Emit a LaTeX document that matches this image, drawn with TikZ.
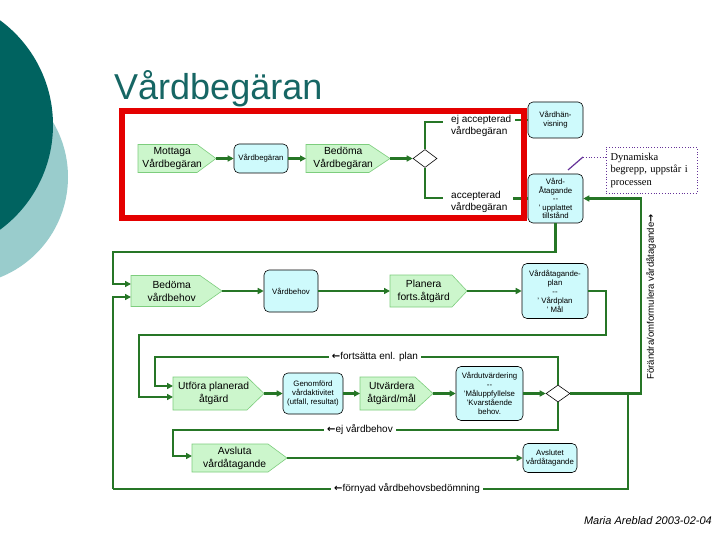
\documentclass[tikz,border=0pt]{standalone}
\usepackage{fontspec}
\setmainfont{Liberation Sans}
\newfontfamily\seriff{Liberation Serif}
\newfontfamily\symf{DejaVu Sans}
\usetikzlibrary{shapes.geometric,arrows.meta,backgrounds}

\definecolor{tealA}{RGB}{0,99,96}
\definecolor{tealB}{RGB}{153,204,204}
\definecolor{titlec}{RGB}{22,102,100}
\definecolor{redb}{RGB}{228,0,0}
\definecolor{flowg}{RGB}{38,118,38}
\definecolor{pentf}{RGB}{204,246,204}
\definecolor{pentd}{RGB}{125,205,125}
\definecolor{boxf}{RGB}{206,250,252}
\definecolor{purp}{RGB}{102,51,153}

\newcommand{\arr}[1]{{\symf\bfseries #1}}

\tikzset{
 penttext/.style={rectangle, font=\fontsize{10.3}{13}\selectfont, align=center, inner sep=0pt, anchor=west},
 pentsh/.style={fill=pentf, draw=pentd, line width=0.6pt, line join=miter},
 sbox/.style={rectangle, rounded corners=5pt, fill=boxf, draw=black, line width=0.6pt,
   font=\fontsize{7.8}{9}\selectfont, align=center, inner sep=1pt},
 dia/.style={diamond, draw=black, fill=white, line width=0.6pt, minimum width=24pt,
   minimum height=18pt, inner sep=0pt},
 flow/.style={draw=flowg, line width=2.2pt},
 flowa/.style={flow, -{Triangle[length=6pt,width=6pt]}},
 lbl/.style={fill=white, inner sep=3pt, font=\fontsize{10}{12}\selectfont},
 txt/.style={font=\fontsize{10}{12.5}\selectfont, align=left, inner sep=0pt, anchor=west},
}

% #1 name, #2 left x, #3 centre y, #4 body width, #5 total width, #6 height, #7 text
\newcommand{\mkpent}[7]{%
 \node[penttext, minimum width={#5-10}, minimum height=#6] (#1) at (#2,#3) {#7};
 \coordinate (#1-tip) at (#2+#5,#3);
 \begin{scope}[on background layer]
 \filldraw[pentsh] (#2,#3-#6/2) -- (#2+#4,#3-#6/2) -- (#1-tip) -- (#2+#4,#3+#6/2) -- (#2,#3+#6/2) -- cycle;
 \end{scope}}

\begin{document}
\begin{tikzpicture}[x=1pt,y=-1pt]
\begin{scope}[on background layer]
\fill[white] (0,0) rectangle (720,540);
\clip (0,0) rectangle (720,540);
\fill[tealB] (-40,177) circle (108pt);
\fill[tealA] (-77,125) circle (130pt);
\end{scope}
\useasboundingbox (0,0) rectangle (720,540);

\node[font=\fontsize{36}{40}\selectfont, text=titlec, anchor=base west, inner sep=0pt] (title) at (114,100) {Vårdbegäran};

% ---------- nodes ----------
\mkpent{mot}{138}{158.5}{59}{78}{28}{Mottaga\\Vårdbegäran}
\node[sbox, minimum width=54pt, minimum height=29pt] (vb1) at (261,158.5) {Vårdbegäran};
\mkpent{bed1}{306}{158.5}{63}{84}{28}{Bedöma\\Vårdbegäran}
\node[dia] (d1) at (425,158.5) {};
\node[sbox, minimum width=55pt, minimum height=36pt] (vh) at (555.5,120) {Vårdhän-\\visning};
\node[sbox, minimum width=55pt, minimum height=49pt, font=\fontsize{7.8}{8.6}\selectfont] (va) at (555.5,198.5) {Vård-\\Åtagande\\-{}-\\' upplattet\\tillstånd};
\node[draw=purp, dotted, line width=0.8pt, minimum width=91pt, minimum height=46pt, text width=82pt, align=left, font=\seriff\fontsize{10.5}{12.5}\selectfont, inner sep=4pt] (dyn) at (651.5,170) {Dynamiska\\begrepp, uppstår i\\processen};

\mkpent{bedv}{131}{291}{69}{91}{31}{Bedöma\\vårdbehov}
\node[sbox, minimum width=54pt, minimum height=42pt] (vbh) at (291,291) {Vårdbehov};
\mkpent{plan}{390}{291}{62}{77}{32}{Planera\\forts.åtgärd}
\node[sbox, minimum width=66pt, minimum height=55pt] (vap) at (555,291) {Vårdåtagande-\\plan\\-{}-\\' Vårdplan\\' Mål};

\mkpent{utf}{173}{393.5}{74}{91}{33}{Utföra planerad\\åtgärd}
\node[sbox, minimum width=60pt, minimum height=41pt] (gen) at (313,393.5) {Genomförd\\vårdaktivitet\\(utfall, resultat)};
\mkpent{utv}{360}{393.5}{55}{73}{33}{Utvärdera\\åtgärd/mål}
\node[sbox, minimum width=67pt, minimum height=54pt] (vu) at (489.5,393.5) {Vårdutvärdering\\-{}-\\'Måluppfyllelse\\'Kvarstående\\behov.};
\node[dia, minimum height=17pt] (d2) at (558,393.5) {};

\mkpent{avs}{192}{458}{76}{95}{28}{Avsluta\\vårdåtagande}
\node[sbox, minimum width=54pt, minimum height=29pt] (avt) at (550,458) {Avslutet\\vårdåtagande};

% ---------- connectors ----------
\draw[flowa] (mot-tip) -- (vb1.west);
\draw[flowa] (vb1.east) -- (bed1.west);
\draw[flowa] (bed1-tip) -- (d1.west);
\coordinate (ejb) at (443,122);
\coordinate (accb) at (443,198);
\draw[flow] (d1.north) |- (ejb);
\draw[flow] (d1.south) |- (accb);
\coordinate (ejs) at (515,0);
\coordinate (accs) at (513,0);
\draw[flow] (ejs |- vh.west) -- (vh.west);
\draw[flow] (accs |- va.west) -- (va.west);

\draw[flowa] (va.south) |- (113,252) |- (bedv.west |- 0,284);
\draw[flowa] (bedv-tip) -- (vbh.west);
\draw[flowa] (vbh.east) -- (plan.west);
\draw[flowa] (plan-tip) -- (vap.west);
\draw[flowa] (vap.east) -| (606,335) -| (139,397) -- (utf.west |- 0,397);
\draw[flowa] (d2.north) |- (155,357) |- (utf.west |- 0,386);

\draw[flowa] (utf-tip) -- (gen.west);
\draw[flowa] (gen.east) -- (utv.west);
\draw[flowa] (utv-tip) -- (vu.west);
\draw[flowa] (vu.east) -- (d2.west);
\draw[flowa] (d2.east) -- (641,393.5) |- (va.east);
\draw[flow] (628,393.5) -- (628,489) -- (113,489);
\draw[flowa] (113,489) |- (bedv.west |- 0,297);
\draw[flowa] (d2.south) |- (173,430) |- (avs.west |- 0,456);
\draw[flowa] (avs-tip) -- (avt.west);

% red frame
\draw[redb, line width=6pt] (122,111) rectangle (524,218);

\node[txt] (ej) at (451,126) {ej accepterad\\vårdbegäran};
\node[txt] (acc) at (451,202) {accepterad\\vårdbegäran};

% ---------- labels ----------
\node[lbl] (l1) at (375,357) {\arr{←}fortsätta enl. plan};
\node[lbl] (l2) at (360,430) {\arr{←}ej vårdbehov};
\node[lbl] (l3) at (407,489) {\arr{←}förnyad vårdbehovsbedömning};
\node[font=\fontsize{9.6}{11}\selectfont, rotate=90, inner sep=1pt] (l4) at (651,297) {Förändra/omformulera vårdåtagande\arr{→}};

% comment pointer
\coordinate (pc1) at (568,170);
\coordinate (pc2) at (583,157);
\draw[purp, line width=1.2pt] (pc1) -- (pc2);
\draw[purp, dotted, line width=0.8pt] (pc2) -- (dyn.west |- pc2);

\node[font=\itshape\fontsize{11}{13}\selectfont, anchor=east, inner sep=0pt] (sig) at (712,521) {Maria Areblad 2003-02-04};
\end{tikzpicture}
\end{document}
